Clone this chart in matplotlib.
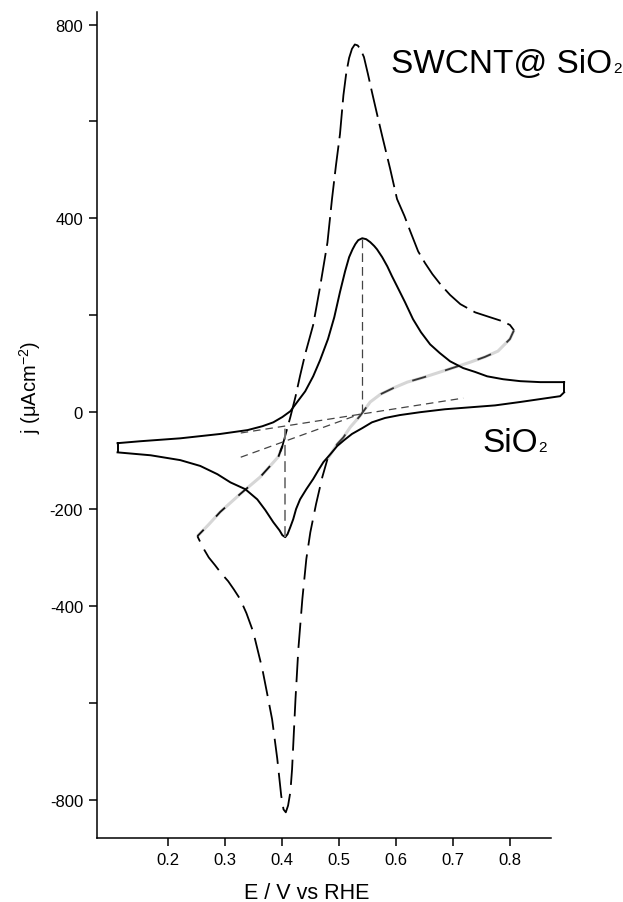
import numpy as np
import matplotlib
matplotlib.use("Agg")
import matplotlib.pyplot as plt
from matplotlib.ticker import FixedLocator, FixedFormatter

plt.rcParams['font.family'] = ['Liberation Sans', 'DejaVu Sans']
plt.rcParams['mathtext.fontset'] = 'custom'
plt.rcParams['mathtext.rm'] = 'Liberation Sans'
plt.rcParams['mathtext.it'] = 'Liberation Sans'

# SWCNT@SiO2 - anodic sweep (left vertex -> right vertex)
swcnt_an_E = [0.252, 0.271, 0.292, 0.327, 0.362, 0.394, 0.401, 0.408, 0.415, 0.424,
              0.432, 0.441, 0.455, 0.467, 0.480, 0.488, 0.495, 0.502, 0.508, 0.513,
              0.518, 0.523, 0.528, 0.533, 0.538, 0.544, 0.551, 0.558, 0.567, 0.576,
              0.590, 0.602, 0.615, 0.625, 0.639, 0.651, 0.664, 0.678, 0.695, 0.713,
              0.739, 0.765, 0.786, 0.800, 0.807]
swcnt_an_j = [-256, -233, -206, -169, -134, -92, -70, -40, -10, 32,
              75, 120, 180, 258, 350, 440, 510, 574, 654, 700,
              731, 750, 759, 757, 749, 733, 698, 661, 615, 570,
              502, 440, 405, 374, 332, 308, 285, 264, 242, 223,
              206, 196, 188, 180, 169]
# SWCNT@SiO2 - cathodic sweep (right vertex -> left vertex)
swcnt_ca_E = [0.807, 0.800, 0.779, 0.756, 0.730, 0.704, 0.678, 0.649, 0.620, 0.596,
              0.573, 0.555, 0.537, 0.520, 0.508, 0.497, 0.480, 0.471, 0.460, 0.450,
              0.443, 0.436, 0.429, 0.424, 0.418, 0.415, 0.411, 0.407, 0.403, 0.399,
              0.392, 0.383, 0.375, 0.366, 0.350, 0.338, 0.327, 0.316, 0.306, 0.294,
              0.283, 0.272, 0.264, 0.257, 0.252]
swcnt_ca_j = [169, 151, 126, 114, 103, 93, 83, 72, 62, 50,
              37, 21, -8, -31, -52, -66, -97, -134, -190, -248,
              -303, -386, -489, -592, -737, -784, -812, -826, -820, -792,
              -715, -634, -585, -531, -454, -415, -386, -366, -349, -333,
              -316, -300, -284, -268, -256]

# SiO2 - anodic sweep
sio2_an_E = [0.112, 0.152, 0.222, 0.292, 0.340, 0.366, 0.385, 0.401, 0.415, 0.427,
             0.441, 0.455, 0.467, 0.481, 0.492, 0.502, 0.511, 0.518, 0.524, 0.529,
             0.534, 0.541, 0.548, 0.555, 0.562, 0.567, 0.576, 0.585, 0.593, 0.602,
             0.616, 0.630, 0.644, 0.660, 0.677, 0.695, 0.718, 0.739, 0.760, 0.788,
             0.818, 0.853, 0.895]
sio2_an_j = [-64, -60, -54, -45, -37, -29, -21, -10, 2, 21,
             43, 74, 107, 151, 196, 248, 291, 320, 336, 347,
             355, 359, 357, 351, 343, 336, 320, 301, 281, 260,
             227, 192, 165, 140, 122, 105, 91, 83, 74, 68,
             64, 62, 62]
# SiO2 - cathodic sweep
sio2_ca_E = [0.895, 0.888, 0.853, 0.818, 0.774, 0.730, 0.686, 0.643, 0.607, 0.581,
             0.558, 0.541, 0.523, 0.509, 0.497, 0.485, 0.473, 0.464, 0.455, 0.443,
             0.432, 0.425, 0.420, 0.415, 0.410, 0.406, 0.401, 0.396, 0.385, 0.371,
             0.357, 0.336, 0.310, 0.287, 0.257, 0.222, 0.170, 0.112]
sio2_ca_j = [41, 33, 27, 21, 14, 10, 6, 0, -6, -12,
             -21, -33, -45, -58, -70, -87, -103, -120, -138, -159,
             -180, -200, -221, -237, -252, -258, -254, -244, -227, -202,
             -180, -159, -145, -128, -111, -99, -89, -83]

# guide lines (baselines and peak heights)
base_up_E = [0.328, 0.718]
base_up_j = [-43, 29]
base_lo_E = [0.328, 0.537]
base_lo_j = [-93, -4]
peak_a_E = [0.541, 0.541]
peak_a_j = [357, -3]
peak_c_E = [0.406, 0.406]
peak_c_j = [-258, -30]

fig = plt.figure(figsize=(6.23, 9.03), dpi=100)
ax = fig.add_axes([97/623, 1-839/903, (567-97)/623, (839-13)/903])

# SWCNT curve: washed-out grey stretches, then long black dashes
ax.plot(swcnt_an_E[:7], swcnt_an_j[:7], color='#d6d6d6', lw=2.2, solid_capstyle='butt')
ax.plot(swcnt_an_E[:7], swcnt_an_j[:7], color='#111111', lw=1.3, linestyle=(2, (7, 10)))
ax.plot(swcnt_an_E[5:], swcnt_an_j[5:], color='black', lw=1.3, linestyle=(0, (16, 4)))
ax.plot(swcnt_ca_E[:17], swcnt_ca_j[:17], color='#d6d6d6', lw=2.2, solid_capstyle='butt')
ax.plot(swcnt_ca_E[:17], swcnt_ca_j[:17], color='#333333', lw=1.3, linestyle=(0, (8, 11)))
ax.plot(swcnt_ca_E[16:], swcnt_ca_j[16:], color='black', lw=1.3, linestyle=(3, (14, 5)))

# SiO2 loop
ax.plot(sio2_an_E, sio2_an_j, color='black', lw=1.4)
ax.plot(sio2_ca_E, sio2_ca_j, color='black', lw=1.4)
ax.plot([sio2_an_E[0], sio2_ca_E[-1]], [sio2_an_j[0], sio2_ca_j[-1]], color='black', lw=1.4)
ax.plot([sio2_an_E[-1], sio2_ca_E[0]], [sio2_an_j[-1], sio2_ca_j[0]], color='black', lw=1.4)

ax.plot(base_up_E, base_up_j, color='#444444', lw=0.9, linestyle=(0, (6, 4)))
ax.plot(base_lo_E, base_lo_j, color='#444444', lw=0.9, linestyle=(0, (6, 4)))
ax.plot(peak_a_E, peak_a_j, color='#444444', lw=0.9, linestyle=(0, (7, 4)))
ax.plot(peak_c_E, peak_c_j, color='#777777', lw=1.3, linestyle=(0, (6, 3)))

ax.set_xlim(0.076, 0.90)
ax.set_ylim(-879, 826)
ax.spines['top'].set_visible(False)
ax.spines['right'].set_visible(False)
ax.spines['left'].set_linewidth(1.1)
ax.spines['bottom'].set_linewidth(1.1)
ax.spines['bottom'].set_bounds(0.076, 0.872)

ax.xaxis.set_major_locator(FixedLocator([0.2, 0.3, 0.4, 0.5, 0.6, 0.7, 0.8]))
ax.xaxis.set_major_formatter(FixedFormatter(['0.2', '0.3', '0.4', '0.5', '0.6', '0.7', '0.8']))
ax.yaxis.set_major_locator(FixedLocator([800, 600, 400, 200, 0, -200, -400, -600, -800]))
ax.yaxis.set_major_formatter(FixedFormatter(['800', '', '400', '', '0', '-200', '-400', '', '-800']))
ax.tick_params(direction='out', length=6, width=1.1, labelsize=12, pad=4)

fig.text(307/623, 1-899/903, 'E / V vs RHE', ha='center', va='baseline', fontsize=15.5)
fig.text(30/623, 1-387/903, r'j (μAcm$^{-2}$)', rotation=90, ha='center', va='center', fontsize=14.5)

# labels with small subscript on the baseline
fig.canvas.draw()
r = fig.canvas.get_renderer()
for x0, y0, s in [(0.592, 702, 'SWCNT@ SiO'), (0.751, -80, 'SiO')]:
    t = ax.text(x0, y0, s, fontsize=24, ha='left', va='baseline')
    bb = t.get_window_extent(renderer=r)
    bx = bb.x1 + 1
    by = ax.transData.transform((x0, y0))[1]
    xd, yd = ax.transData.inverted().transform((bx, by))
    ax.text(xd, yd, '2', fontsize=11, ha='left', va='baseline')

fig.savefig('out.png', dpi=100)
